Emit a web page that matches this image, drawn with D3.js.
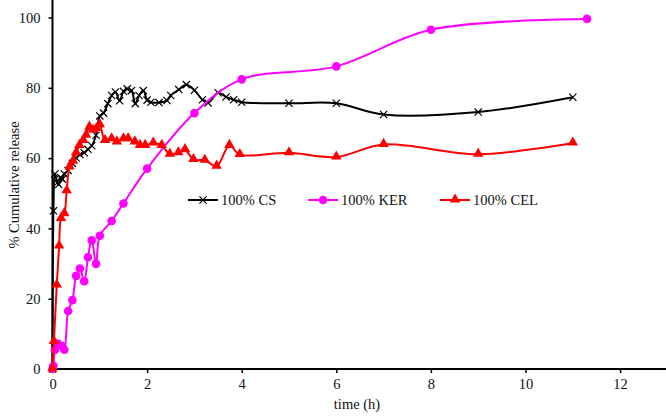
<!DOCTYPE html>
<html><head><meta charset="utf-8">
<script src="https://cdn.jsdelivr.net/npm/d3@7"></script>
<style>body{margin:0;background:#fff}svg{display:block}</style>
</head><body>
<svg id="c" width="666" height="416"></svg>
<script>
const xTicks = [0, 2, 4, 6, 8, 10, 12];
const yTicks = [0, 20, 40, 60, 80, 100];
const seriesNames = ["100% CS", "100% KER", "100% CEL"];

const csTime = [0,0.02,0.05,0.1,0.13,0.17,0.21,0.25,0.33,0.42,0.5,0.58,0.67,0.75,0.83,0.92,1.0,1.08,1.17,1.25,1.33,1.42,1.5,1.58,1.67,1.75,1.83,1.92,2.0,2.08,2.25,2.42,2.5,2.67,2.83,3.0,3.17,3.29,3.5,3.67,3.83,4,5,6,7,9,11];
const csVal  = [0,45,55.5,53,52.5,54.5,54,55.5,56.5,58.5,60,61,61.5,62.5,63.5,66.5,72,72.8,75.5,77.8,78.8,76.3,79,79.7,79.2,75.5,77.8,79.2,76.5,75.9,75.8,76.4,77.8,79.5,80.9,79.3,76.6,75.7,78.6,77.4,76.6,75.9,75.6,75.6,72.4,73.1,77.3];

const kerTime = [0,0.02,0.05,0.12,0.2,0.25,0.33,0.42,0.5,0.58,0.67,0.75,0.83,0.92,1,1.25,1.5,2,3,4,6,8,11.3];
const kerVal  = [0,0.9,5.4,7.2,6.5,5.5,16.5,19.6,26.5,28.6,25,31.8,36.6,29.9,37.9,42.1,47.1,57,72.8,82.4,86.1,96.5,99.6];

const celTime = [0,0.03,0.09,0.14,0.18,0.25,0.3,0.36,0.43,0.5,0.57,0.65,0.71,0.78,0.86,0.93,1.0,1.11,1.25,1.36,1.5,1.6,1.74,1.85,1.96,2.13,2.31,2.48,2.66,2.8,2.98,3.22,3.47,3.74,3.96,5,6,7,9,11];
const celVal  = [0,7.8,23.9,35,42.8,44.2,50.7,57.5,59.1,61.5,63.6,65,66.5,68.8,67.9,68.4,69.5,65,65.5,64.6,65.5,65.5,64.6,63.6,63.6,64.3,63.6,61.1,61.5,62.4,59.6,59.4,57.7,63.6,61,61.5,60.3,63.9,61.1,64.3];

const FONT = "Times New Roman, Liberation Serif, DejaVu Serif, serif";
const FS = 14.5;
const svg = d3.select("#c");
const x = d3.scaleLinear().domain([0, 13]).range([52.5, 667.4]);
const y = d3.scaleLinear().domain([0, 100]).range([369, 17.5]);

// axes
const xAxis = svg.append("g").attr("transform", "translate(0,369)")
  .call(d3.axisBottom(x).tickValues(xTicks).tickSize(4).tickPadding(6).tickFormat(d3.format("d")));
const yAxis = svg.append("g").attr("transform", "translate(52.5,0)")
  .call(d3.axisLeft(y).tickValues(yTicks).tickSize(4).tickPadding(8).tickFormat(d3.format("d")));
[xAxis, yAxis].forEach(a => {
  a.attr("font-family", FONT).attr("font-size", FS);
  a.select(".domain").attr("stroke", "#000").attr("stroke-width", 2);
  a.selectAll(".tick line").attr("stroke", "#000").attr("stroke-width", 1.5);
  a.selectAll("text").attr("font-family", FONT).attr("font-size", FS).attr("fill", "#111");
});
xAxis.select(".domain").attr("d", "M52.5,0H666");
yAxis.select(".domain").attr("d", "M0,370V0");

svg.append("text").attr("x", 357).attr("y", 409).attr("text-anchor", "middle")
  .attr("font-family", FONT).attr("font-size", FS).attr("fill", "#111").text("time (h)");
svg.append("text").attr("transform", "translate(19,185) rotate(-90)").attr("text-anchor", "middle")
  .attr("font-family", FONT).attr("font-size", FS).attr("fill", "#111").text("% Cumulative release");

const line = d3.line().x(d => x(d[0])).y(d => y(d[1])).curve(d3.curveCatmullRom.alpha(0.5));
const zip = (t, v) => t.map((d, i) => [d, v[i]]);
const series = [
  {name: seriesNames[0], data: zip(csTime, csVal), color: "#000000", marker: "x"},
  {name: seriesNames[1], data: zip(kerTime, kerVal), color: "#FF00FF", marker: "circle"},
  {name: seriesNames[2], data: zip(celTime, celVal), color: "#FF0000", marker: "triangle"}
];

const xPath = s => `M${-s},${-s}L${s},${s}M${-s},${s}L${s},${-s}`;
const triPath = d3.symbol().type(d3.symbolTriangle).size(48)();
function drawMarker(g, m, color) {
  if (m === "x") g.append("path").attr("d", xPath(3.6)).attr("stroke", color).attr("stroke-width", 1.2).attr("fill", "none");
  else if (m === "circle") g.append("circle").attr("r", 4.3).attr("fill", color);
  else g.append("path").attr("d", triPath).attr("fill", color).attr("transform", "translate(0,-0.5)");
}

series.forEach(s => {
  svg.append("path").datum(s.data).attr("d", line).attr("fill", "none")
    .attr("stroke", s.color).attr("stroke-width", 2);
  const gm = svg.append("g");
  s.data.forEach(d => {
    const g = gm.append("g").attr("transform", `translate(${x(d[0])},${y(d[1])})`);
    drawMarker(g, s.marker, s.color);
  });
});

// legend
const legX = [188, 308, 440];
series.forEach((s, i) => {
  const g = svg.append("g").attr("transform", `translate(${legX[i]},200)`);
  g.append("line").attr("x1", 0).attr("x2", 30).attr("stroke", s.color).attr("stroke-width", 2);
  const mg = g.append("g").attr("transform", "translate(15,0)");
  drawMarker(mg, s.marker, s.color);
  g.append("text").attr("x", 33).attr("y", 5).attr("font-family", FONT).attr("font-size", FS)
    .attr("fill", "#111").text(s.name);
});
</script>
</body></html>
